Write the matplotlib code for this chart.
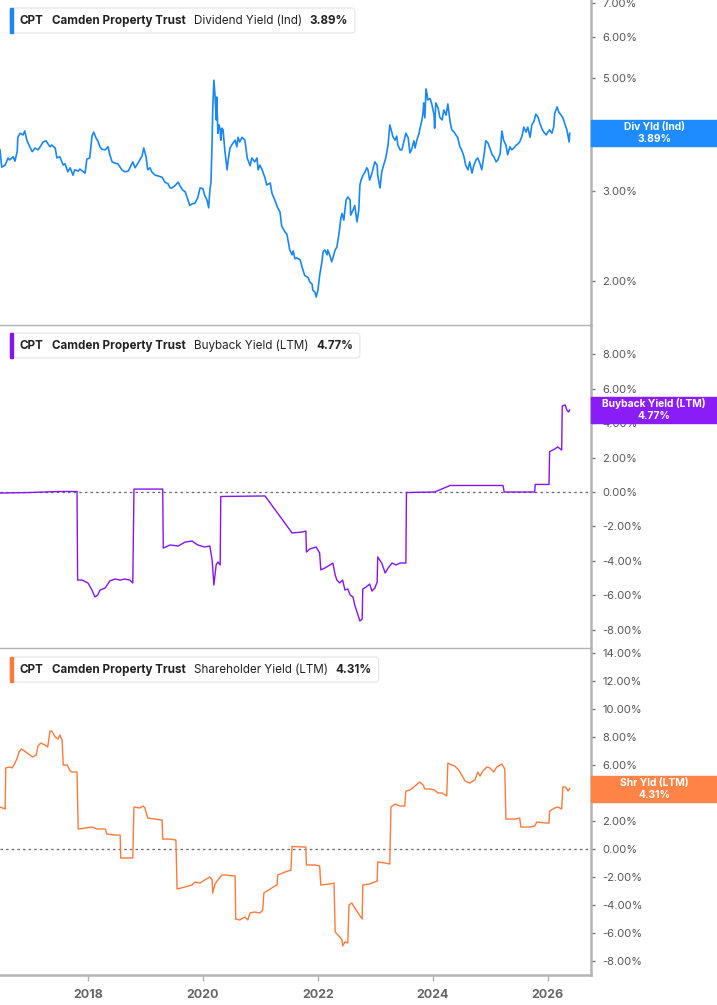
import numpy as np
import matplotlib.pyplot as plt
from matplotlib.patches import Rectangle, FancyBboxPatch
from matplotlib.transforms import IdentityTransform
from matplotlib.ticker import FixedLocator, FuncFormatter, NullLocator

plt.rcParams['font.family'] = ['Inter', 'DejaVu Sans']

# ---- data ----
div_dates = [2016.47, 2016.50, 2016.56, 2016.61, 2016.64, 2016.70, 2016.73, 2016.77, 2016.78, 2016.82,
             2016.87, 2016.90, 2016.94, 2016.99, 2017.03, 2017.08, 2017.13, 2017.17, 2017.22, 2017.27,
             2017.34, 2017.37, 2017.43, 2017.46, 2017.51, 2017.57, 2017.60, 2017.65, 2017.69, 2017.74,
             2017.77, 2017.83, 2017.86, 2017.95, 2017.98, 2018.03, 2018.07, 2018.10, 2018.14, 2018.17,
             2018.21, 2018.24, 2018.30, 2018.35, 2018.38, 2018.42, 2018.47, 2018.52, 2018.59, 2018.64,
             2018.70, 2018.73, 2018.78, 2018.82, 2018.87, 2018.94, 2018.97, 2019.01, 2019.04, 2019.08,
             2019.11, 2019.17, 2019.22, 2019.29, 2019.34, 2019.39, 2019.43, 2019.46, 2019.51, 2019.57,
             2019.60, 2019.65, 2019.69, 2019.74, 2019.77, 2019.81, 2019.86, 2019.91, 2019.95, 2020.00,
             2020.03, 2020.07, 2020.10, 2020.12, 2020.14, 2020.16, 2020.17, 2020.19, 2020.21, 2020.23,
             2020.24, 2020.26, 2020.28, 2020.30, 2020.31, 2020.33, 2020.35, 2020.38, 2020.42, 2020.44,
             2020.47, 2020.50, 2020.56, 2020.59, 2020.61, 2020.64, 2020.68, 2020.73, 2020.77, 2020.82,
             2020.85, 2020.90, 2020.94, 2020.96, 2020.99, 2021.03, 2021.08, 2021.11, 2021.17, 2021.20,
             2021.25, 2021.30, 2021.34, 2021.37, 2021.43, 2021.46, 2021.51, 2021.55, 2021.57, 2021.60,
             2021.63, 2021.69, 2021.74, 2021.77, 2021.83, 2021.86, 2021.90, 2021.91, 2021.95, 2021.97,
             2022.00, 2022.03, 2022.07, 2022.09, 2022.12, 2022.16, 2022.17, 2022.21, 2022.24, 2022.26,
             2022.30, 2022.33, 2022.37, 2022.40, 2022.42, 2022.45, 2022.49, 2022.52, 2022.56, 2022.57,
             2022.61, 2022.64, 2022.68, 2022.71, 2022.73, 2022.75, 2022.78, 2022.82, 2022.85, 2022.87,
             2022.90, 2022.94, 2022.99, 2023.03, 2023.04, 2023.08, 2023.11, 2023.17, 2023.18, 2023.22,
             2023.25, 2023.29, 2023.30, 2023.34, 2023.37, 2023.39, 2023.43, 2023.46, 2023.50, 2023.53,
             2023.57, 2023.60, 2023.63, 2023.67, 2023.69, 2023.72, 2023.76, 2023.77, 2023.81, 2023.83,
             2023.84, 2023.86, 2023.88, 2023.90, 2023.91, 2023.95, 2023.98, 2024.02, 2024.03, 2024.05,
             2024.09, 2024.12, 2024.16, 2024.19, 2024.23, 2024.26, 2024.30, 2024.33, 2024.37, 2024.40,
             2024.43, 2024.47, 2024.50, 2024.54, 2024.57, 2024.61, 2024.64, 2024.68, 2024.71, 2024.75,
             2024.78, 2024.82, 2024.85, 2024.89, 2024.92, 2024.96, 2024.99, 2025.03, 2025.06, 2025.10,
             2025.13, 2025.17, 2025.20, 2025.23, 2025.27, 2025.30, 2025.34, 2025.37, 2025.41, 2025.44,
             2025.48, 2025.51, 2025.55, 2025.58, 2025.62, 2025.65, 2025.69, 2025.72, 2025.76, 2025.79,
             2025.83, 2025.86, 2025.90, 2025.93, 2025.97, 2026.00, 2026.03, 2026.07, 2026.10, 2026.12,
             2026.16, 2026.19, 2026.23, 2026.26, 2026.30, 2026.33, 2026.37, 2026.38]
div_vals = [3.61, 3.34, 3.37, 3.48, 3.45, 3.50, 3.43, 3.59, 3.82, 3.89,
            3.86, 3.93, 3.76, 3.66, 3.58, 3.64, 3.61, 3.66, 3.74, 3.76,
            3.66, 3.69, 3.64, 3.48, 3.50, 3.37, 3.39, 3.27, 3.33, 3.22,
            3.30, 3.28, 3.31, 3.25, 3.46, 3.48, 3.84, 3.91, 3.81, 3.76,
            3.66, 3.62, 3.61, 3.66, 3.53, 3.42, 3.40, 3.39, 3.30, 3.27,
            3.28, 3.33, 3.42, 3.33, 3.40, 3.51, 3.64, 3.50, 3.30, 3.33,
            3.27, 3.22, 3.21, 3.19, 3.12, 3.10, 3.04, 3.04, 3.07, 3.12,
            3.07, 3.01, 2.99, 2.88, 2.81, 2.83, 2.84, 2.91, 3.04, 3.03,
            2.94, 2.88, 2.78, 3.01, 3.12, 3.77, 4.32, 4.94, 4.62, 4.13,
            4.58, 3.89, 4.04, 3.95, 3.77, 3.98, 3.95, 3.61, 3.30, 3.45,
            3.64, 3.69, 3.77, 3.66, 3.82, 3.74, 3.82, 3.77, 3.48, 3.36,
            3.48, 3.42, 3.48, 3.30, 3.37, 3.30, 3.18, 3.08, 3.11, 2.97,
            2.88, 2.78, 2.73, 2.56, 2.49, 2.47, 2.30, 2.25, 2.29, 2.21,
            2.22, 2.20, 2.10, 2.05, 2.03, 1.99, 1.97, 1.92, 1.90, 1.86,
            1.92, 2.05, 2.18, 2.28, 2.30, 2.25, 2.30, 2.24, 2.18, 2.22,
            2.30, 2.33, 2.49, 2.66, 2.71, 2.63, 2.88, 2.92, 2.88, 2.69,
            2.75, 2.81, 2.61, 2.75, 3.08, 3.15, 3.21, 3.27, 3.33, 3.30,
            3.15, 3.25, 3.42, 3.37, 3.22, 3.04, 3.27, 3.45, 3.48, 3.69,
            4.04, 3.89, 3.84, 3.77, 3.84, 3.69, 3.61, 3.61, 3.77, 3.89,
            3.81, 3.56, 3.62, 3.76, 3.64, 3.77, 3.89, 3.95, 4.13, 4.28,
            4.46, 4.17, 4.75, 4.62, 4.52, 4.55, 4.44, 4.22, 3.98, 4.46,
            4.36, 4.18, 4.13, 4.32, 4.22, 4.44, 4.09, 3.95, 3.91, 3.86,
            3.82, 3.66, 3.61, 3.50, 3.37, 3.30, 3.42, 3.25, 3.36, 3.45,
            3.48, 3.39, 3.30, 3.53, 3.76, 3.72, 3.64, 3.53, 3.50, 3.42,
            3.45, 3.55, 3.93, 3.77, 3.69, 3.53, 3.66, 3.61, 3.64, 3.68,
            3.71, 3.74, 3.84, 4.00, 3.91, 4.00, 3.82, 4.04, 4.11, 4.24,
            4.18, 4.07, 3.96, 3.91, 3.86, 3.91, 3.95, 3.89, 4.00, 4.26,
            4.38, 4.28, 4.22, 4.17, 4.04, 3.95, 3.74, 3.89]

bb_dates = [2016.47, 2016.99, 2017.51, 2017.81, 2017.82, 2017.90, 2018.00, 2018.07, 2018.12, 2018.17,
            2018.21, 2018.30, 2018.38, 2018.47, 2018.56, 2018.64, 2018.73, 2018.78, 2018.80, 2019.30,
            2019.31, 2019.43, 2019.57, 2019.69, 2019.81, 2019.91, 2020.03, 2020.12, 2020.16, 2020.19,
            2020.23, 2020.26, 2020.30, 2020.31, 2021.08, 2021.55, 2021.72, 2021.79, 2021.80, 2021.86,
            2021.97, 2022.03, 2022.05, 2022.12, 2022.21, 2022.26, 2022.30, 2022.33, 2022.38, 2022.43,
            2022.47, 2022.52, 2022.56, 2022.61, 2022.64, 2022.68, 2022.73, 2022.77, 2022.78, 2022.84,
            2022.90, 2022.94, 2022.99, 2023.03, 2023.04, 2023.11, 2023.17, 2023.22, 2023.29, 2023.36,
            2023.43, 2023.53, 2023.54, 2024.03, 2024.30, 2025.22, 2025.24, 2025.77, 2025.78, 2026.02,
            2026.03, 2026.12, 2026.17, 2026.24, 2026.25, 2026.30, 2026.33, 2026.36, 2026.38]
bb_vals = [-0.06, -0.03, 0.03, 0.03, -5.12, -5.12, -5.29, -5.70, -6.10, -5.99,
           -5.70, -5.58, -5.17, -5.06, -5.12, -5.06, -5.12, -5.29, 0.17, 0.17,
           -3.26, -3.08, -3.14, -2.91, -2.85, -3.08, -3.20, -3.14, -3.95, -5.41,
           -4.24, -4.07, -4.24, -0.26, -0.23, -2.38, -2.33, -2.27, -3.49, -3.31,
           -3.20, -3.55, -4.53, -4.42, -4.24, -4.13, -4.83, -5.12, -5.29, -5.12,
           -5.70, -5.64, -5.99, -6.10, -6.57, -6.98, -7.50, -7.38, -5.64, -5.52,
           -5.35, -5.76, -5.58, -5.23, -3.78, -4.13, -4.71, -4.42, -4.13, -4.24,
           -4.13, -4.13, -0.03, 0.00, 0.38, 0.38, 0.00, 0.00, 0.44, 0.44,
           2.35, 2.50, 2.62, 2.44, 5.00, 5.06, 4.77, 4.65, 4.77]

shy_dates = [2016.47, 2016.56, 2016.57, 2016.64, 2016.68, 2016.73, 2016.77, 2016.80, 2016.84, 2016.87,
             2016.92, 2016.99, 2017.04, 2017.10, 2017.13, 2017.18, 2017.25, 2017.30, 2017.34, 2017.37,
             2017.43, 2017.48, 2017.51, 2017.55, 2017.57, 2017.64, 2017.69, 2017.72, 2017.81, 2017.83,
             2017.95, 2018.07, 2018.16, 2018.30, 2018.33, 2018.47, 2018.56, 2018.57, 2018.78, 2018.80,
             2018.90, 2018.96, 2018.99, 2019.04, 2019.17, 2019.29, 2019.30, 2019.43, 2019.53, 2019.55,
             2019.69, 2019.81, 2019.86, 2019.95, 2020.03, 2020.12, 2020.16, 2020.17, 2020.21, 2020.26,
             2020.33, 2020.40, 2020.56, 2020.57, 2020.64, 2020.73, 2020.78, 2020.82, 2020.90, 2020.99,
             2021.04, 2021.06, 2021.17, 2021.25, 2021.29, 2021.30, 2021.43, 2021.53, 2021.55, 2021.79,
             2021.80, 2021.95, 2022.03, 2022.05, 2022.21, 2022.28, 2022.30, 2022.35, 2022.38, 2022.42,
             2022.43, 2022.47, 2022.52, 2022.54, 2022.59, 2022.64, 2022.70, 2022.77, 2022.78, 2022.90,
             2023.03, 2023.04, 2023.17, 2023.25, 2023.27, 2023.34, 2023.43, 2023.51, 2023.53, 2023.60,
             2023.69, 2023.77, 2023.83, 2023.86, 2023.95, 2024.03, 2024.09, 2024.16, 2024.24, 2024.26,
             2024.33, 2024.38, 2024.45, 2024.50, 2024.56, 2024.64, 2024.73, 2024.78, 2024.82, 2024.87,
             2024.94, 2024.99, 2025.06, 2025.11, 2025.20, 2025.25, 2025.27, 2025.43, 2025.51, 2025.53,
             2025.69, 2025.77, 2025.81, 2025.95, 2026.02, 2026.03, 2026.12, 2026.17, 2026.24, 2026.26,
             2026.31, 2026.35, 2026.38]
shy_vals = [3.00, 2.86, 5.79, 5.86, 5.79, 6.14, 6.50, 6.93, 7.14, 7.07,
            6.93, 6.71, 6.57, 6.71, 7.36, 7.57, 7.43, 7.29, 8.43, 8.43,
            8.00, 7.86, 8.14, 7.79, 6.00, 6.00, 5.57, 5.50, 5.50, 1.43,
            1.50, 1.57, 1.43, 1.43, 1.07, 1.00, 1.00, -0.64, -0.64, 3.00,
            2.93, 3.07, 2.93, 2.21, 2.14, 2.07, 0.71, 0.71, 0.64, -2.86,
            -2.71, -2.57, -2.36, -2.43, -2.21, -2.00, -2.21, -3.14, -2.50, -2.21,
            -1.86, -1.86, -1.93, -5.00, -5.07, -4.86, -5.07, -4.57, -4.50, -4.57,
            -4.36, -3.14, -2.86, -2.64, -2.57, -1.86, -1.64, -1.50, 0.18, 0.14,
            -1.14, -1.14, -1.21, -2.57, -2.50, -2.43, -5.93, -6.14, -6.29, -6.50,
            -6.93, -6.64, -6.71, -4.00, -3.86, -4.21, -4.57, -5.00, -2.57, -2.50,
            -2.29, -0.93, -1.00, -1.07, 3.00, 3.21, 3.07, 3.07, 4.14, 4.21,
            4.50, 4.79, 4.57, 4.29, 4.29, 4.21, 4.00, 4.00, 3.79, 6.14,
            6.00, 5.93, 5.64, 5.29, 4.86, 4.71, 4.93, 5.50, 5.21, 5.57,
            5.86, 5.79, 5.50, 5.86, 6.07, 5.71, 2.14, 2.14, 2.21, 1.57,
            1.57, 1.64, 1.93, 1.86, 1.86, 2.71, 2.93, 3.00, 2.86, 4.43,
            4.43, 4.14, 4.31]

year_ticks = [2018, 2020, 2022, 2024, 2026]
div_ticks = [2, 3, 4, 5, 6, 7]
bb_ticks = [-10, -8, -6, -4, -2, 0, 2, 4, 6, 8]
shy_ticks = [-8, -6, -4, -2, 0, 2, 4, 6, 8, 10, 12, 14]

BLUE, BLUE_BOX = '#1a87f5', '#1e8cff'
PURPLE, PURPLE_BOX = '#8414f5', '#8a1cf8'
ORANGE, ORANGE_BOX = '#ff7a3a', '#ff8446'
GRID_GRAY = '#b4b4b4'
TXT = '#555555'

W, H = 717, 1005
fig = plt.figure(figsize=(W / 100, H / 100), dpi=100)
fig.patch.set_facecolor('white')

right = 591 / W
ax1 = fig.add_axes([0, 1 - 325 / H, right, 325 / H])
ax2 = fig.add_axes([0, 1 - 648 / H, right, 323 / H])
ax3 = fig.add_axes([0, 1 - 975 / H, right, 327 / H])

pct = FuncFormatter(lambda v, p: '%.2f%%' % v)

for ax in (ax1, ax2, ax3):
    ax.set_xlim(2016.47, 2026.75)
    ax.yaxis.tick_right()
    for s in ('top', 'left'):
        ax.spines[s].set_visible(False)
    ax.spines['right'].set_color(GRID_GRAY)
    ax.spines['right'].set_linewidth(1.8)
    ax.spines['bottom'].set_color(GRID_GRAY)
    ax.spines['bottom'].set_linewidth(1.0)
    ax.tick_params(axis='y', which='major', length=3, width=1, color='#777777',
                   labelsize=8, labelcolor=TXT, pad=5)
    ax.yaxis.set_minor_locator(NullLocator())
    ax.patch.set_alpha(0)

ax1.plot(div_dates, div_vals, color=BLUE, lw=1.2)
ax1.set_yscale('log')
ax1.set_ylim(1.64, 7.09)
ax1.yaxis.set_major_locator(FixedLocator(div_ticks))
ax1.yaxis.set_minor_locator(NullLocator())
ax1.yaxis.set_major_formatter(pct)
ax1.yaxis.set_minor_formatter(FuncFormatter(lambda v, p: ''))

ax2.plot(bb_dates, bb_vals, color=PURPLE, lw=1.0)
ax2.set_ylim(-9.07, 9.71)
ax2.yaxis.set_major_locator(FixedLocator(bb_ticks))
ax2.yaxis.set_major_formatter(pct)
ax2.axhline(0, color='#666666', lw=0.9, ls=(0, (2, 2.5)), zorder=1)

ax3.plot(shy_dates, shy_vals, color=ORANGE, lw=1.0)
ax3.set_ylim(-9.0, 14.36)
ax3.yaxis.set_major_locator(FixedLocator(shy_ticks))
ax3.yaxis.set_major_formatter(pct)
ax3.axhline(0, color='#666666', lw=0.9, ls=(0, (2, 2.5)), zorder=1)

for ax in (ax1, ax2):
    ax.set_xticks([])
ax3.set_xticks(year_ticks)
ax3.set_xticklabels([str(y) for y in year_ticks])
ax3.tick_params(axis='x', length=4, width=1, color=GRID_GRAY, labelsize=9,
                labelcolor='#666666', pad=6)
for lbl in ax3.get_xticklabels():
    lbl.set_fontweight('bold')
ax3.spines['bottom'].set_linewidth(1.8)

ident = IdentityTransform()
renderer = fig.canvas.get_renderer()


def header(top, color, parts):
    # parts: (text, weight) drawn left to right with equal gaps
    y0 = H - top
    x = 20
    last = None
    for txt, wt in parts:
        t = fig.text(x, y0 - 12.5, txt, transform=ident, fontsize=8.4, fontweight=wt,
                     color='#222222', va='center', ha='left', zorder=12)
        bb = t.get_window_extent(renderer)
        x = bb.x1 + 8
        last = bb.x1
    box = FancyBboxPatch((10, y0 - 25), last + 7 - 10, 25, boxstyle='round,pad=0,rounding_size=3',
                         transform=ident, fc='white', ec='#e4e4e4', lw=0.8, zorder=11)
    fig.add_artist(box)
    fig.add_artist(Rectangle((10, y0 - 25), 3, 25, transform=ident, color=color, zorder=12))


header(8, BLUE, [('CPT', 'bold'), ('Camden Property Trust', 'bold'),
                 ('Dividend Yield (Ind)', 'normal'), ('%.2f%%' % div_vals[-1], 'bold')])
header(333, PURPLE, [('CPT', 'bold'), ('Camden Property Trust', 'bold'),
                     ('Buyback Yield (LTM)', 'normal'), ('%.2f%%' % bb_vals[-1], 'bold')])
header(657, ORANGE, [('CPT', 'bold'), ('Camden Property Trust', 'bold'),
                     ('Shareholder Yield (LTM)', 'normal'), ('%.2f%%' % shy_vals[-1], 'bold')])


def value_box(ax, xs, vs, color, name):
    yd = ax.transData.transform((xs[-1], vs[-1]))[1]
    x0 = ax.transAxes.transform((1, 0))[0]
    fig.add_artist(Rectangle((x0, yd - 13), W - x0, 26, transform=ident,
                             color=color, zorder=20))
    cx = (x0 + W) / 2
    fig.text(cx, yd + 6, name, transform=ident, ha='center', va='center',
             fontsize=7.4, fontweight='bold', color='white', zorder=21)
    fig.text(cx, yd - 6, '%.2f%%' % vs[-1], transform=ident, ha='center', va='center',
             fontsize=7.4, fontweight='bold', color='white', zorder=21)


value_box(ax1, div_dates, div_vals, BLUE_BOX, 'Div Yld (Ind)')
value_box(ax2, bb_dates, bb_vals, PURPLE_BOX, 'Buyback Yield (LTM)')
value_box(ax3, shy_dates, shy_vals, ORANGE_BOX, 'Shr Yld (LTM)')

fig.savefig('out.png', dpi=100)
